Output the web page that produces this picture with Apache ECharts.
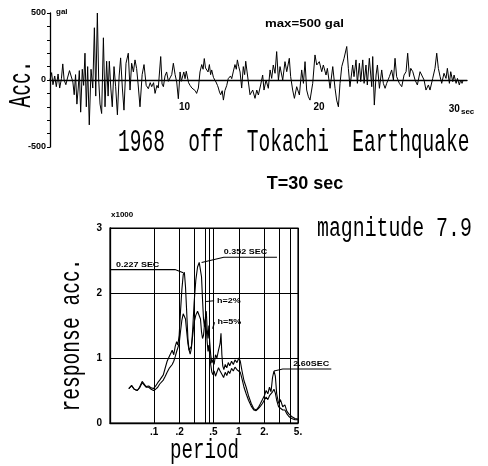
<!DOCTYPE html>
<html><head><meta charset="utf-8">
<script src="https://cdn.jsdelivr.net/npm/echarts@6/dist/echarts.min.js"></script>
<style>html,body{margin:0;padding:0;background:#fff}#c{width:488px;height:466px}</style>
</head><body><div id="c"></div>
<script>
// ---- accelerogram: [time (sec), acceleration (gal)] ----
const accRecord = [
[0,0],[0.12,55],[0.22,-35],[0.35,30],[0.47,-50],[0.60,45],[0.72,-60],[0.85,10],[0.95,120],[1.05,0],
[1.18,-35],[1.30,15],[1.45,70],[1.58,80],[1.70,-15],[1.80,-110],[1.90,40],[2.00,-180],[2.10,-60],[2.18,70],
[2.28,-240],[2.40,80],[2.50,-40],[2.60,200],[2.70,-200],[2.80,100],[2.92,-335],[3.05,80],[3.18,-60],[3.30,390],
[3.40,-120],[3.52,500],[3.62,0],[3.72,-180],[3.84,-250],[3.97,315],[4.09,-200],[4.21,140],[4.32,-120],[4.41,140],
[4.52,-60],[4.63,-200],[4.76,100],[4.88,-50],[5.01,-260],[5.14,30],[5.25,165],[5.38,-60],[5.50,-225],[5.65,125],
[5.82,200],[5.95,-75],[6.07,125],[6.20,60],[6.32,150],[6.44,85],[6.55,-30],[6.69,-200],[6.85,40],[6.99,115],
[7.15,-40],[7.31,-65],[7.45,-20],[7.56,-50],[7.70,-20],[7.81,-100],[7.95,-40],[8.05,-60],[8.23,175],[8.33,-30],
[8.43,-50],[8.55,30],[8.67,60],[8.80,-10],[8.92,15],[9.05,40],[9.17,125],[9.30,40],[9.42,-15],[9.54,-140],
[9.67,60],[9.76,-10],[9.86,0],[9.95,60],[10.04,10],[10.13,65],[10.21,60],[10.30,-20],[10.41,-40],[10.55,-60],
[10.66,-60],[10.80,-80],[10.90,-100],[11.03,-60],[11.15,60],[11.28,115],[11.38,80],[11.47,160],[11.56,90],[11.65,100],
[11.75,60],[11.85,115],[11.94,40],[12.02,75],[12.15,20],[12.25,0],[12.34,-15],[12.45,-40],[12.52,-60],[12.60,-90],
[12.69,-110],[12.80,-80],[12.89,-150],[13.00,-80],[13.14,-40],[13.25,10],[13.33,0],[13.42,30],[13.51,10],[13.62,60],
[13.75,115],[13.85,80],[13.93,150],[14.03,100],[14.13,60],[14.25,-60],[14.37,100],[14.47,40],[14.55,140],[14.65,60],
[14.75,60],[14.87,-110],[15.07,-75],[15.24,-137],[15.37,-75],[15.49,-112],[15.66,-37],[15.81,37],[15.91,-75],[16.06,0],
[16.23,-62],[16.36,75],[16.48,12],[16.60,112],[16.73,50],[16.85,212],[16.98,0],[17.10,100],[17.30,0],[17.47,137],
[17.60,62],[17.79,162],[17.89,25],[18.04,-75],[18.17,-137],[18.34,-50],[18.54,-112],[18.71,75],[18.84,-25],[18.96,137],
[19.08,-75],[19.21,-125],[19.33,-150],[19.53,-25],[19.70,187],[19.83,112],[20.02,137],[20.20,62],[20.32,112],[20.52,37],
[20.62,87],[20.82,-62],[21.02,100],[21.19,-62],[21.31,-150],[21.44,-200],[21.56,-25],[21.69,100],[21.86,162],[22.06,250],
[22.18,87],[22.30,-50],[22.50,112],[22.60,25],[22.75,150],[22.85,-25],[23.00,125],[23.10,-12],[23.25,150],[23.35,-25],
[23.49,112],[23.59,-37],[23.74,162],[23.92,-50],[23.99,175],[24.11,-187],[24.24,37],[24.34,112],[24.49,-62],[24.66,75],
[24.78,-25],[24.91,-62],[25.03,-25],[25.23,25],[25.40,75],[25.53,0],[25.65,162],[25.77,25],[25.97,-25],[26.15,-50],
[26.32,37],[26.47,62],[26.59,200],[26.72,25],[26.82,87],[26.97,62],[27.14,0],[27.31,-37],[27.51,62],[27.63,62],
[27.81,0],[27.95,-75],[28.13,-37],[28.25,-75],[28.45,12],[28.62,87],[28.75,200],[28.87,87],[29.00,25],[29.12,-25],
[29.29,50],[29.44,12],[29.54,87],[29.69,-25],[29.79,62],[29.94,-12],[30.04,37],[30.19,-25],[30.29,12],[30.43,-37],
[30.53,0],[30.63,-25],[30.72,0]
];
const accTimeLabels = [10, 20, 30];
const accValueLabels = [-500, 0, 500];

// ---- response spectra: [period (sec), response acc. (x1000 gal)] ----
const spectrumH2 = [
[0.050,0.53],[0.054,0.58],[0.058,0.52],[0.063,0.50],[0.067,0.55],[0.072,0.64],[0.076,0.62],[0.080,0.56],[0.086,0.57],[0.092,0.54],
[0.098,0.53],[0.104,0.57],[0.110,0.62],[0.116,0.66],[0.122,0.64],[0.128,0.74],[0.135,0.85],[0.142,0.95],[0.150,1.02],[0.157,1.00],
[0.163,1.12],[0.170,1.05],[0.177,1.18],[0.184,1.25],[0.190,1.20],[0.197,1.35],[0.204,1.70],[0.212,2.05],[0.220,2.28],[0.227,2.32],
[0.234,2.10],[0.242,1.70],[0.250,1.30],[0.258,1.12],[0.266,1.06],[0.275,1.15],[0.285,1.45],[0.296,1.85],[0.310,2.20],[0.325,2.40],
[0.340,2.47],[0.352,2.46],[0.362,2.25],[0.372,1.90],[0.382,1.60],[0.392,1.48],[0.402,1.62],[0.412,1.72],[0.422,1.45],[0.432,1.30],
[0.442,1.50],[0.452,1.25],[0.465,1.05],[0.480,0.92],[0.495,0.98],[0.510,0.90],[0.530,1.05],[0.550,1.00],[0.575,1.12],[0.600,1.22],
[0.615,1.38],[0.630,1.05],[0.645,0.88],[0.665,0.82],[0.690,0.90],[0.720,0.85],[0.750,0.93],[0.780,0.88],[0.820,0.95],[0.860,0.90],
[0.900,0.97],[0.950,0.93],[1.000,1.00],[1.040,0.95],[1.090,0.80],[1.150,0.65],[1.220,0.55],[1.300,0.42],[1.400,0.30],[1.500,0.22],
[1.600,0.20],[1.700,0.24],[1.800,0.30],[1.900,0.36],[2.000,0.42],[2.100,0.50],[2.200,0.45],[2.300,0.55],[2.400,0.48],[2.500,0.70],
[2.600,0.80],[2.700,0.72],[2.800,0.45],[2.950,0.30],[3.100,0.36],[3.300,0.25],[3.500,0.28],[3.700,0.18],[3.900,0.14],[4.200,0.10],
[4.600,0.07],[5.000,0.06]
];
const spectrumH5 = [
[0.050,0.53],[0.054,0.57],[0.058,0.52],[0.063,0.50],[0.067,0.54],[0.072,0.62],[0.076,0.60],[0.080,0.55],[0.086,0.55],[0.092,0.52],
[0.098,0.50],[0.104,0.52],[0.110,0.55],[0.116,0.60],[0.122,0.58],[0.128,0.66],[0.135,0.72],[0.142,0.78],[0.150,0.84],[0.157,0.82],
[0.163,0.90],[0.170,0.95],[0.177,1.02],[0.184,1.10],[0.190,1.12],[0.197,1.22],[0.204,1.40],[0.212,1.58],[0.220,1.68],[0.227,1.70],
[0.234,1.60],[0.242,1.40],[0.250,1.22],[0.258,1.12],[0.266,1.10],[0.275,1.18],[0.285,1.35],[0.296,1.55],[0.310,1.66],[0.325,1.72],
[0.340,1.70],[0.352,1.60],[0.362,1.40],[0.372,1.30],[0.382,1.35],[0.392,1.50],[0.402,1.60],[0.412,1.45],[0.422,1.25],[0.432,1.10],
[0.442,1.20],[0.452,1.05],[0.465,0.90],[0.480,0.78],[0.495,0.74],[0.510,0.80],[0.530,0.72],[0.550,0.78],[0.575,0.85],[0.600,0.80],
[0.630,0.75],[0.660,0.70],[0.690,0.78],[0.720,0.73],[0.750,0.80],[0.780,0.76],[0.820,0.84],[0.860,0.80],[0.900,0.86],[0.950,0.82],
[1.000,0.85],[1.040,0.78],[1.090,0.68],[1.150,0.55],[1.220,0.45],[1.300,0.35],[1.400,0.26],[1.500,0.20],[1.600,0.19],[1.700,0.22],
[1.800,0.26],[1.900,0.30],[2.000,0.33],[2.100,0.40],[2.200,0.36],[2.300,0.42],[2.400,0.40],[2.500,0.48],[2.600,0.52],[2.700,0.46],
[2.800,0.35],[2.950,0.25],[3.100,0.28],[3.300,0.20],[3.500,0.20],[3.700,0.14],[3.900,0.10],[4.200,0.07],[4.600,0.05],[5.000,0.05]
];
const periodGridLines = [0.1, 0.2, 0.3, 0.4, 0.45, 0.5, 1, 2, 3, 4, 5];
const periodLabelValues = [0.1, 0.2, 0.5, 1, 2, 5];
const periodLabelTexts = ['.1', '.2', '.5', '1', '2.', '5.'];
const peakPeriods = [0.227, 0.352, 2.60];

const MONO = '"Liberation Mono", "DejaVu Sans Mono", monospace';
const SANS = '"Liberation Sans", Arial, sans-serif';
const chart = echarts.init(document.getElementById('c'));

function periodLabel(v) {
  const i = periodLabelValues.findIndex(p => Math.abs(p - v) < 1e-9);
  return i >= 0 ? periodLabelTexts[i] : '';
}

chart.setOption({
  animation: false,
  backgroundColor: '#fff',
  grid: [
    { left: 50, top: 13, width: 417, height: 134 },
    { left: 110, top: 228, width: 188, height: 195, show: true, borderColor: '#000', borderWidth: 1.2 }
  ],
  xAxis: [
    { gridIndex: 0, type: 'value', min: 0, max: 31, interval: 10, offset: -67,
      axisLine: { onZero: false, lineStyle: { color: '#000', width: 1.4 } },
      axisTick: { show: false }, splitLine: { show: false },
      axisLabel: { margin: 22, color: '#000', fontFamily: SANS, fontWeight: 'bold', fontSize: 10,
        formatter: v => accTimeLabels.indexOf(v) < 0 ? '' : (v === 30 ? '{p|}' + v + '{s|sec}' : String(v)),
        rich: { p: { width: 16 }, s: { fontSize: 8, fontWeight: 'bold', fontFamily: SANS, color: '#000', verticalAlign: 'bottom', padding: [6, 0, 0, 1] } } } },
    { gridIndex: 1, type: 'log', min: 0.03, max: 5,
      axisLine: { lineStyle: { color: '#000', width: 1.3 } },
      axisTick: { show: false }, axisLabel: { show: false }, splitLine: { show: false }, minorTick: { show: false } }
  ],
  yAxis: [
    { gridIndex: 0, type: 'value', min: -500, max: 500, interval: 100,
      axisLine: { show: true, onZero: false, lineStyle: { color: '#000', width: 1.3 } },
      axisTick: { show: true, length: 3, lineStyle: { color: '#000' } }, splitLine: { show: false },
      axisLabel: { margin: 4, color: '#000', fontFamily: SANS, fontWeight: 'bold', fontSize: 9,
        formatter: v => accValueLabels.indexOf(v) < 0 ? '' : String(v) } },
    { gridIndex: 1, type: 'value', min: 0, max: 3, interval: 1,
      axisLine: { show: true, lineStyle: { color: '#000', width: 1.3 } },
      axisTick: { show: false },
      splitLine: { show: true, lineStyle: { color: '#000', width: 1.1 } },
      axisLabel: { margin: 8, color: '#000', fontFamily: SANS, fontWeight: 'bold', fontSize: 10 } }
  ],
  series: [
    { type: 'line', xAxisIndex: 0, yAxisIndex: 0, data: accRecord, showSymbol: false, symbol: 'none',
      lineStyle: { color: '#000', width: 1 }, silent: true },
    { type: 'line', xAxisIndex: 1, yAxisIndex: 1, data: spectrumH2, symbol: 'none', clip: false,
      lineStyle: { color: '#000', width: 1.1 }, silent: true,
      markLine: { silent: true, symbol: ['none', 'none'], animation: false,
        lineStyle: { color: '#000', width: 1, type: 'solid' },
        label: { show: true, position: 'start', distance: 4, color: '#000', fontFamily: SANS, fontWeight: 'bold', fontSize: 10,
          formatter: p => periodLabel(p.value) },
        data: periodGridLines.map(v => ({ xAxis: v })) } },
    { type: 'line', xAxisIndex: 1, yAxisIndex: 1, data: spectrumH5, symbol: 'none', clip: false,
      lineStyle: { color: '#000', width: 1.1 }, silent: true }
  ]
});

// ---- annotations anchored in data space ----
const px = (p, v) => chart.convertToPixel({ gridIndex: 1 }, [p, v]);
const g = [];
const stroke = { stroke: '#000', lineWidth: 1.1, fill: null };
function poly(pts) { g.push({ type: 'polyline', silent: true, shape: { points: pts }, style: stroke }); }
function annText(text, at, align, va) {
  g.push({ type: 'text', silent: true, x: at[0], y: at[1], scaleX: 1.12,
    style: { text, fill: '#000', font: 'bold 8px ' + SANS, align, verticalAlign: va } });
}
function bigText(text, x, y, size, sx, rot) {
  g.push({ type: 'text', silent: true, x, y, scaleX: sx, rotation: rot || 0,
    style: { text, fill: '#000', font: size + 'px ' + MONO, align: rot ? 'center' : 'left', verticalAlign: 'middle' } });
}
// 0.227 SEC
const a1 = px(0.03, 2.36), a2 = px(0.176, 2.36), a3 = px(peakPeriods[0] * 0.97, 2.31);
poly([a1, a2, a3]); annText('0.227 SEC', [a1[0] + 6, a1[1] - 1], 'left', 'bottom');
// 0.352 SEC
const b1 = px(2.82, 2.55), b2 = px(0.664, 2.55), b3 = px(peakPeriods[1] * 1.03, 2.47);
poly([b1, b2, b3]); annText('0.352 SEC', [b2[0], b2[1] - 1], 'left', 'bottom');
// h=2%
const c1 = px(0.41, 1.87), c2 = px(0.51, 1.88);
poly([c1, c2]); annText('h=2%', [c2[0] + 3, c2[1]], 'left', 'middle');
// h=5%
const d1 = px(0.49, 1.45), d2 = px(0.515, 1.55);
poly([d1, d2]); annText('h=5%', [d2[0] + 3, d2[1]], 'left', 'middle');
// 2.60 SEC
const e1 = px(peakPeriods[2], 0.80), e2 = px(3.3, 0.83), e3 = px(4.4, 0.83);
poly([e1, e2, e3, [e3[0] + 38, e3[1]]]); annText('2.60SEC', [e3[0], e3[1] - 1], 'left', 'bottom');

// free texts
bigText('1968  off  Tokachi  Earthquake', 118, 143, 32, 0.61);
bigText('magnitude 7.9', 317, 229, 27, 0.735);
bigText('period', 170, 451, 27, 0.71);
bigText('response acc.', 72, 335, 28, 0.70, Math.PI / 2);
bigText('Acc.', 22, 84, 32, 0.61, Math.PI / 2);
g.push({ type: 'text', silent: true, x: 305, y: 184, style: { text: 'T=30 sec', fill: '#000', font: 'bold 18px ' + SANS, align: 'center', verticalAlign: 'middle' } });
g.push({ type: 'text', silent: true, x: 265, y: 24, scaleX: 1.32, style: { text: 'max=500 gal', fill: '#000', font: 'bold 10px ' + SANS, align: 'left', verticalAlign: 'middle' } });
g.push({ type: 'text', silent: true, x: 56, y: 12, style: { text: 'gal', fill: '#000', font: 'bold 8px ' + SANS, align: 'left', verticalAlign: 'middle' } });
g.push({ type: 'text', silent: true, x: 111, y: 215, style: { text: 'x1000', fill: '#000', font: 'bold 8px ' + SANS, align: 'left', verticalAlign: 'middle' } });

chart.setOption({ graphic: g });
</script>
</body></html>
